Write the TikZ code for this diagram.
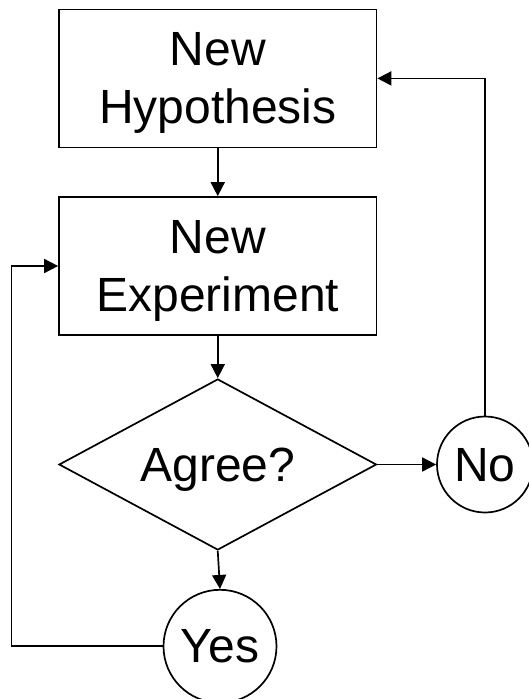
\documentclass[tikz,border=0pt]{standalone}
\usepackage{fontspec}
\setmainfont{Liberation Sans}
\usetikzlibrary{shapes.geometric,arrows.meta}
\begin{document}
\begin{tikzpicture}[x=1pt,y=-1pt,
  lbl/.style={font=\fontsize{48}{58}\selectfont, align=center, inner sep=0pt, text depth=0pt},
  boxnode/.style={lbl, draw, line width=1.7pt, rectangle, minimum width=317.5pt, minimum height=138pt},
  decide/.style={lbl, draw, line width=1.7pt, diamond, aspect=1.857, minimum width=317.5pt, minimum height=171pt},
  endnode/.style={lbl, draw, line width=1.7pt, circle},
  conn/.style={line width=1.7pt, -{Triangle[length=14pt,width=14pt]}}]
\useasboundingbox (0,0) rectangle (529,699);
\node[boxnode] (h) at (217.75,78.4) {New\\Hypothesis};
\node[boxnode] (e) at (217.75,266) {New\\Experiment};
\node[decide] (d) at (217.75,464.5) {Agree?};
\node[endnode, minimum size=96pt] (no) at (485,464.5) {No};
\node[endnode, minimum size=113pt] (yes) at (220,646.3) {Yes};
\coordinate (L) at (11.5,266);
\draw[conn] (h) -- (e);
\draw[conn] (e) -- (d);
\draw[conn] (d.east) -- (no.west);
\draw[conn] (d.south) -- (yes.north);
\draw[conn] (yes.west) -| (L) -- (e.west);
\draw[conn] (no.north) |- (h.east);
\end{tikzpicture}
\end{document}
